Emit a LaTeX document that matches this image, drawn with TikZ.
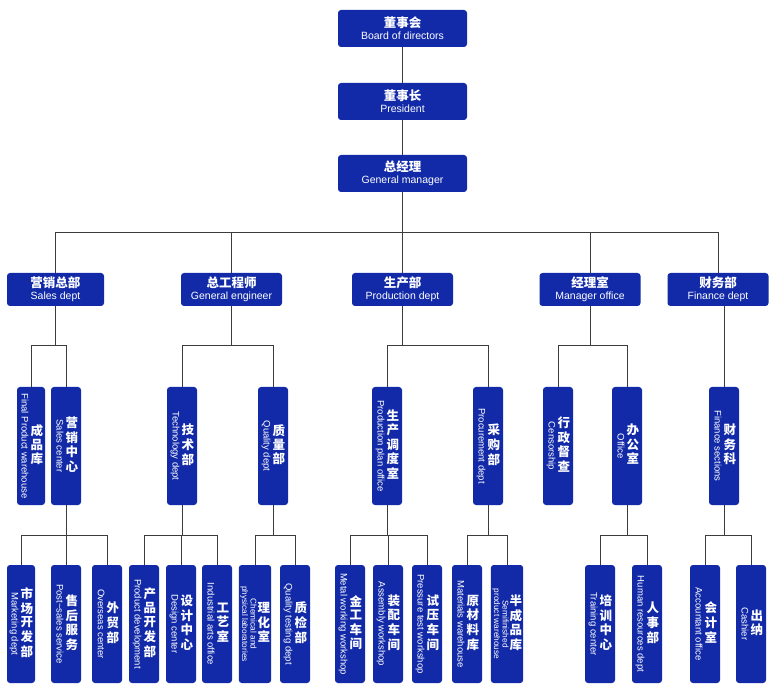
\documentclass[tikz,border=0pt]{standalone}
\usepackage{graphicx}
\usepackage{fontspec}
\setmainfont{Liberation Sans}
\newfontfamily\cjk{Noto Sans CJK SC}
\definecolor{boxblue}{RGB}{18,42,168}
\definecolor{linegray}{RGB}{60,60,60}

% two-line label of a wide box: Chinese over English
\newcommand{\hlab}[2]{{\cjk\bfseries\fontsize{12.5}{13.5}\selectfont #1}\\{\fontsize{10.5}{11.5}\selectfont #2}}
% label of a tall box: English turned, Chinese stacked upright
\newcommand{\vlab}[2]{$\vcenter{\hbox{\rotatebox{-90}{\fontsize{9.5}{9.5}\selectfont\begin{tabular}{@{}c@{}}#2\end{tabular}}}}$\hspace{2pt}$\vcenter{\hbox{\cjk\bfseries\fontsize{12.5}{13}\selectfont\begin{tabular}{@{}c@{}}#1\end{tabular}}}$}
\newcommand{\vlabb}[2]{$\vcenter{\hbox{\rotatebox{-90}{\fontsize{8.3}{8.1}\selectfont\begin{tabular}{@{}c@{}}#2\end{tabular}}}}$\hspace{1pt}$\vcenter{\hbox{\cjk\bfseries\fontsize{12.5}{13}\selectfont\begin{tabular}{@{}c@{}}#1\end{tabular}}}$}

\begin{document}
\begin{tikzpicture}[x=1pt,y=-1pt]
\tikzstyle{topbox}=[fill=boxblue,text=white,rounded corners=3pt,inner sep=1pt,align=center,minimum width=129,minimum height=37]
\tikzstyle{deptbox}=[topbox,minimum width=101,minimum height=33]
\tikzstyle{colbox}=[fill=boxblue,text=white,rounded corners=3pt,inner sep=1pt,minimum width=30,minimum height=118]
\tikzstyle{link}=[draw=linegray,line width=0.8pt]
\useasboundingbox[fill=white] (0,0) rectangle (780,687);

% top of the chart
\node[topbox](board) at (402.5,28.5) {\hlab{董事会}{Board of directors}};
\node[topbox](pres) at (402.5,101.5) {\hlab{董事长}{President}};
\node[topbox](gm) at (402.5,173.5) {\hlab{总经理}{General manager}};

% departments
\node[deptbox,minimum width=97](sales) at (55.5,289.5) {\hlab{营销总部}{Sales dept}};
\node[deptbox](eng) at (231.5,289.5) {\hlab{总工程师}{General engineer}};
\node[deptbox](prod) at (402.5,289.5) {\hlab{生产部}{Production dept}};
\node[deptbox](mgr) at (590,289.5) {\hlab{经理室}{Manager office}};
\node[deptbox](fin) at (718,289.5) {\hlab{财务部}{Finance dept}};

% sections
\node[colbox,minimum width=28](fpw) at (31,446) {\vlab{成\\品\\库}{Final Product warehouse}};
\node[colbox](salesc) at (66,446) {\vlab{营\\销\\中\\心}{Sales center}};
\node[colbox](tech) at (182,446) {\vlab{技\\术\\部}{Technology dept}};
\node[colbox](qual) at (273,446) {\vlab{质\\量\\部}{Quality dept}};
\node[colbox](plan) at (387,446) {\vlab{生\\产\\调\\度\\室}{Production plan office}};
\node[colbox](proc) at (488,446) {\vlab{采\\购\\部}{Procurement dept}};
\node[colbox](cens) at (558,446) {\vlab{行\\政\\督\\查}{Censorship}};
\node[colbox](office) at (627,446) {\vlab{办\\公\\室}{Office}};
\node[colbox](fins) at (724,446) {\vlab{财\\务\\科}{Finance sections}};

% offices and workshops
\node[colbox,minimum width=28](mkt) at (21,624) {\vlab{市\\场\\开\\发\\部}{Marketing dept}};
\node[colbox](post) at (66,624) {\vlab{售\\后\\服\\务}{Post\textasciitilde sales service}};
\node[colbox](over) at (107,624) {\vlab{外\\贸\\部}{Overseas center}};
\node[colbox](pdev) at (144,624) {\vlab{产\\品\\开\\发\\部}{Product development}};
\node[colbox](design) at (181,624) {\vlab{设\\计\\中\\心}{Design center}};
\node[colbox](arts) at (217,624) {\vlab{工\\艺\\室}{Industrial arts office}};
\node[colbox](chem) at (255,624) {\vlabb{理\\化\\室}{Chemical and\\physical laboratories}};
\node[colbox](qtest) at (295,624) {\vlab{质\\检\\部}{Quality testing dept}};
\node[colbox](metal) at (350,624) {\vlab{金\\工\\车\\间}{Metal working workshop}};
\node[colbox](assem) at (388,624) {\vlab{装\\配\\车\\间}{Assembly workshop}};
\node[colbox](press) at (427,624) {\vlab{试\\压\\车\\间}{Pressure test workshop}};
\node[colbox](mat) at (467,624) {\vlab{原\\材\\料\\库}{Materials warehouse}};
\node[colbox](semi) at (507,624) {\vlabb{半\\成\\品\\库}{Semifinished\\product warehouse}};
\node[colbox](train) at (600,624) {\vlab{培\\训\\中\\心}{Training center}};
\node[colbox](hr) at (647,624) {\vlab{人\\事\\部}{Human resources dept}};
\node[colbox](acct) at (705,624) {\vlab{会\\计\\室}{Accountant office}};
\node[colbox](cash) at (751,624) {\vlab{出\\纳}{Cashier}};

% junctions
\coordinate (jgm) at (402.5,232);
\coordinate (jsales) at (55.5,345);
\coordinate (jeng) at (231.5,345);
\coordinate (jprod) at (402.5,345);
\coordinate (jmgr) at (590,345);
\coordinate (jsc) at (66,535);
\coordinate (jtech) at (182,535);
\coordinate (jqual) at (273,535);
\coordinate (jplan) at (387,535);
\coordinate (jproc) at (488,535);
\coordinate (joff) at (627,535);
\coordinate (jfins) at (724,535);

\draw[link] (board) -- (pres);
\draw[link] (pres) -- (gm);
\draw[link] (gm) -- (jgm) -| (sales) (jgm) -| (eng) (jgm) -| (prod) (jgm) -| (mgr) (jgm) -| (fin);
\draw[link] (sales) -- (jsales) -| (fpw) (jsales) -| (salesc);
\draw[link] (eng) -- (jeng) -| (tech) (jeng) -| (qual);
\draw[link] (prod) -- (jprod) -| (plan) (jprod) -| (proc);
\draw[link] (mgr) -- (jmgr) -| (cens) (jmgr) -| (office);
\draw[link] (fin.south -| fins) -- (fins);
\draw[link] (salesc) -- (jsc) -| (mkt) (jsc) -| (post) (jsc) -| (over);
\draw[link] (tech) -- (jtech) -| (pdev) (jtech) -| (design) (jtech) -| (arts);
\draw[link] (qual) -- (jqual) -| (chem) (jqual) -| (qtest);
\draw[link] (plan) -- (jplan) -| (metal) (jplan) -| (assem) (jplan) -| (press);
\draw[link] (proc) -- (jproc) -| (mat) (jproc) -| (semi);
\draw[link] (office) -- (joff) -| (train) (joff) -| (hr);
\draw[link] (fins) -- (jfins) -| (acct) (jfins) -| (cash);
\end{tikzpicture}
\end{document}
